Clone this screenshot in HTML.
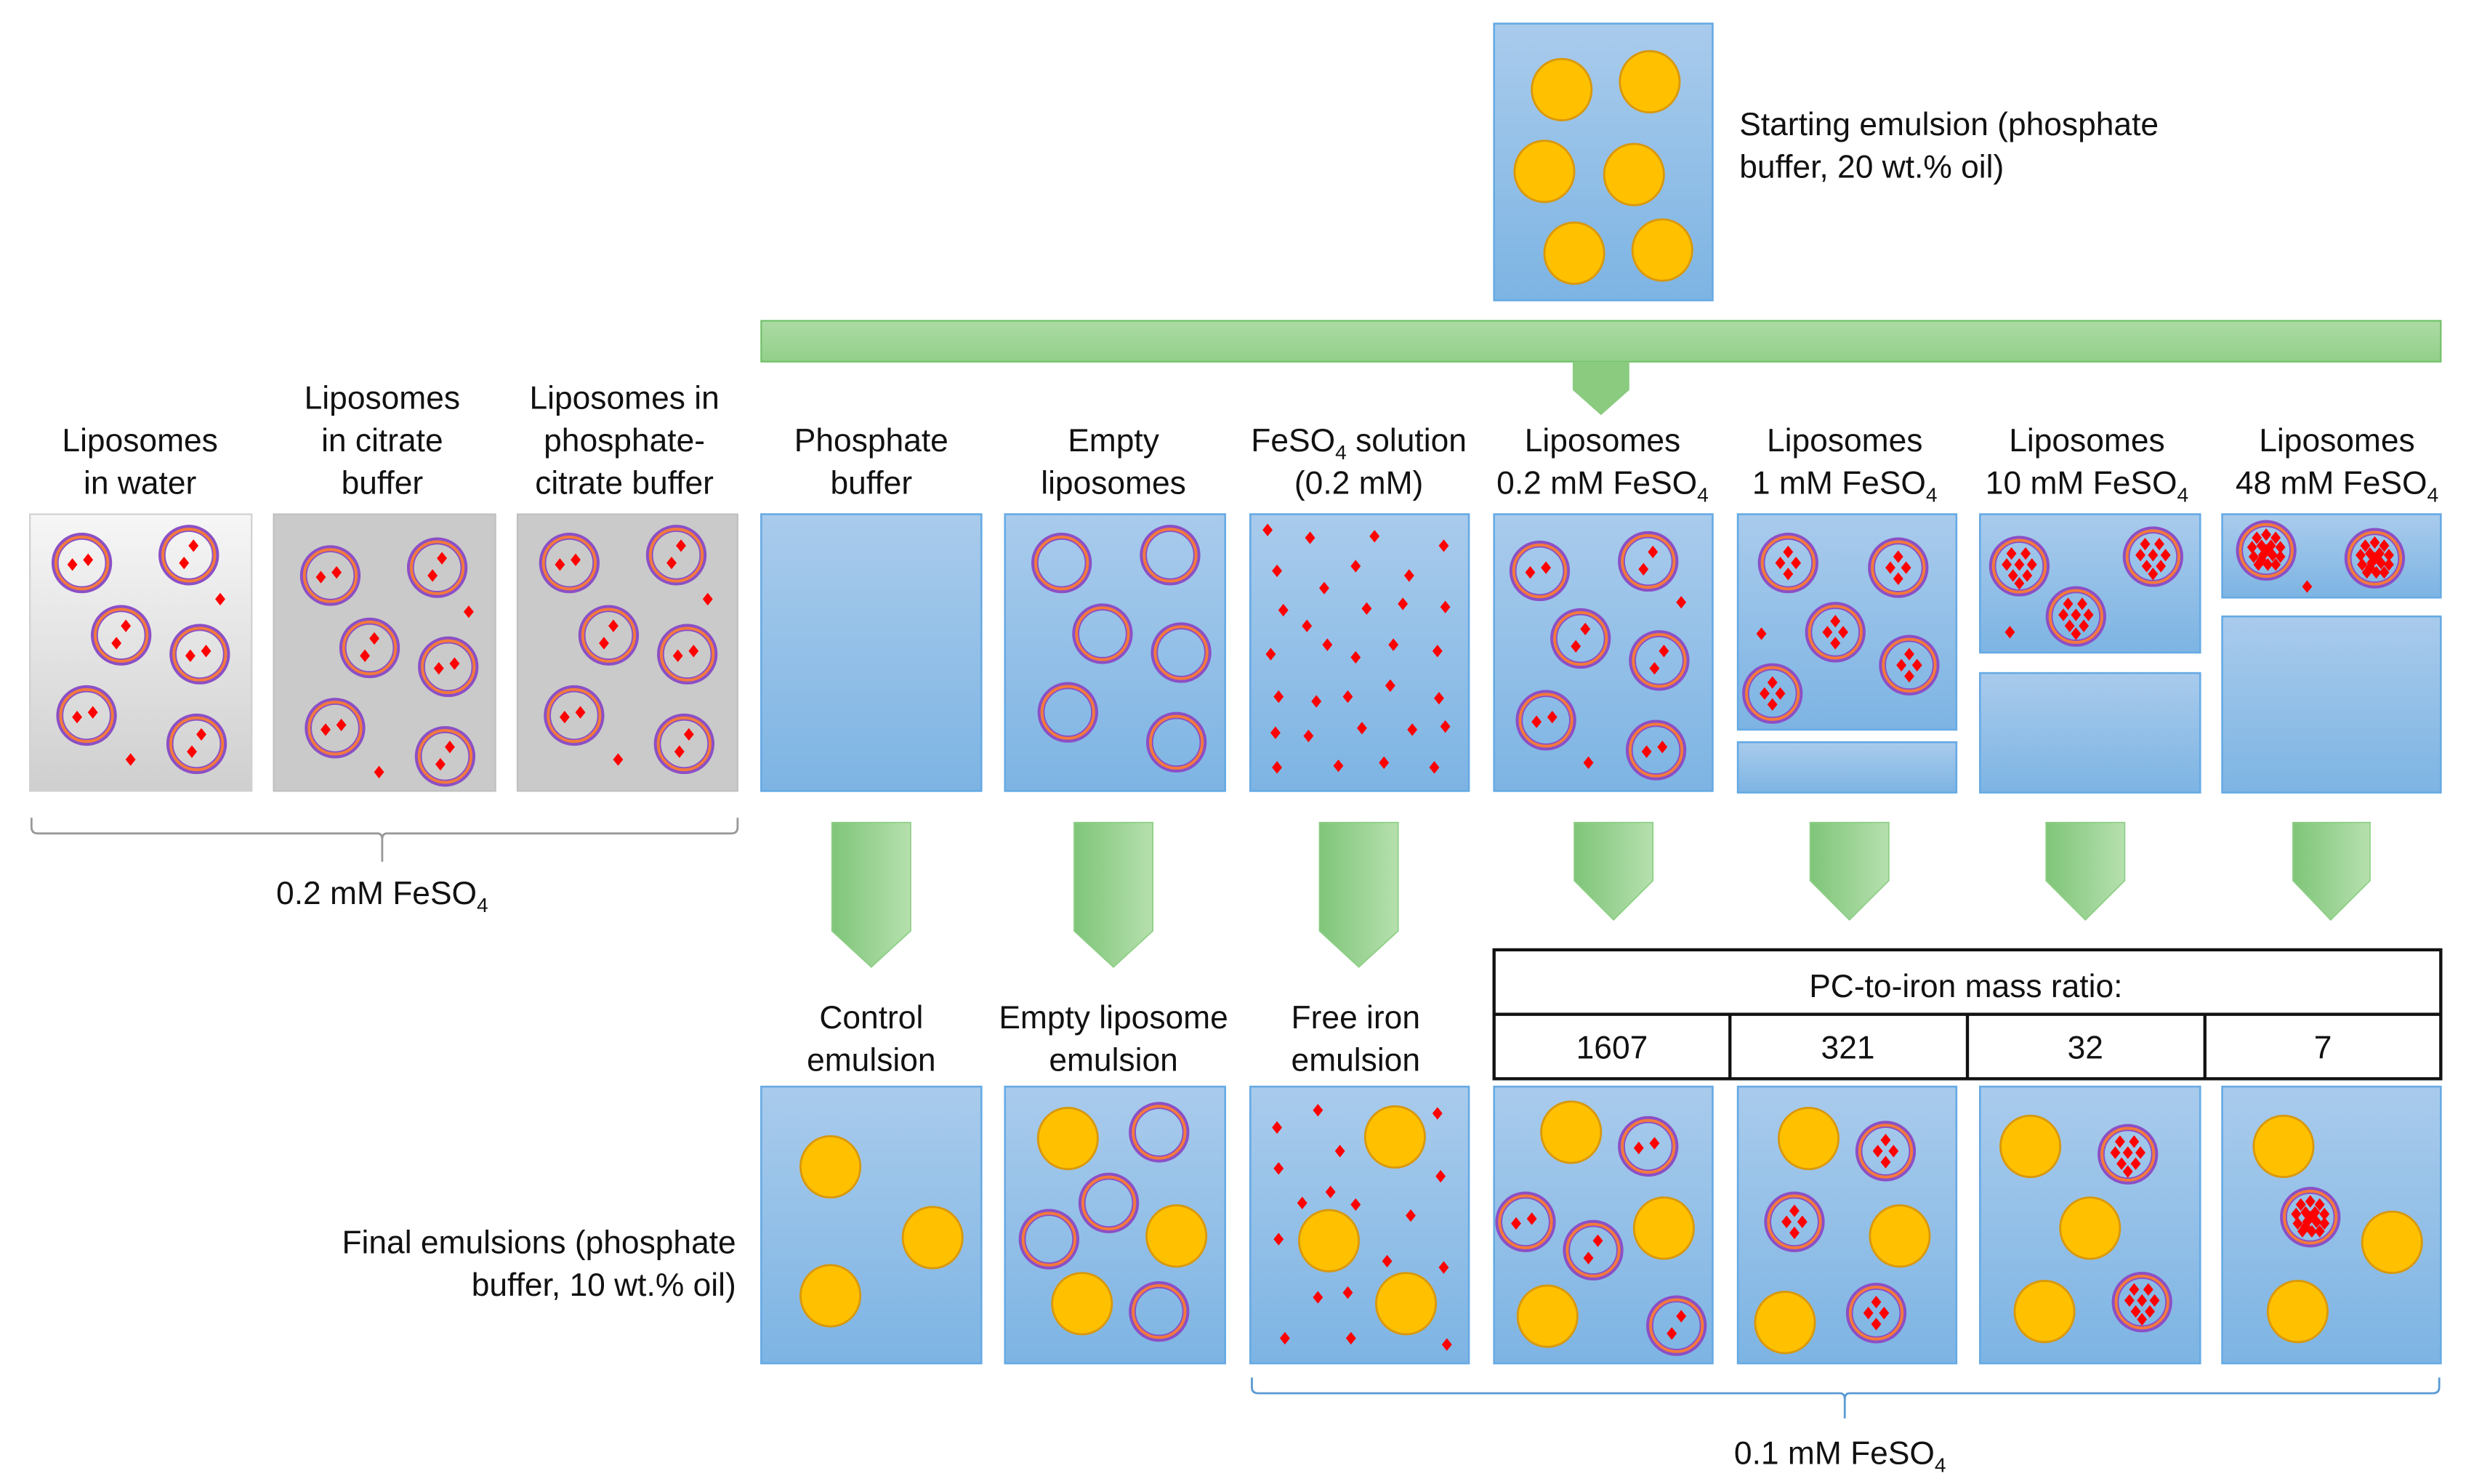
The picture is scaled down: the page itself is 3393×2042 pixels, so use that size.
<!DOCTYPE html>
<html><head><meta charset="utf-8"><style>html,body{margin:0;padding:0;background:#fff}svg{display:block}</style></head><body>
<svg width="3393" height="2042" viewBox="0 0 1568 943.7" xmlns="http://www.w3.org/2000/svg" font-family="Liberation Sans, Arial, sans-serif">
<defs>
<linearGradient id="bl" x1="0" y1="0" x2="0" y2="1"><stop offset="0" stop-color="#a9cbec"/><stop offset="1" stop-color="#7db4e3"/></linearGradient>
<linearGradient id="g1" x1="0" y1="0" x2="0" y2="1"><stop offset="0" stop-color="#f6f6f6"/><stop offset="1" stop-color="#cfcfcf"/></linearGradient>
<linearGradient id="gr" x1="0" y1="0" x2="0" y2="1"><stop offset="0" stop-color="#acdba4"/><stop offset="1" stop-color="#92d08a"/></linearGradient>
<linearGradient id="ga" x1="0" y1="0" x2="1" y2="0"><stop offset="0" stop-color="#7fc579"/><stop offset="1" stop-color="#b6e0ae"/></linearGradient>
<polygon id="d" points="0,-4 3.2,0 0,4 -3.2,0" fill="#f00"/>
<g id="r"><circle r="17" fill="none" stroke="#8b4fc6" stroke-width="4.5"/><circle r="16.5" fill="none" stroke="#f47a3c" stroke-width="1.8"/></g>
<g id="L2"><use href="#r"/><use href="#d" x="-6" y="1"/><use href="#d" x="4" y="-2"/></g>
<g id="L2b"><use href="#r"/><use href="#d" x="3" y="-6"/><use href="#d" x="-3" y="5"/></g>
<g id="L4"><use href="#r"/><use href="#d" x="0" y="-7"/><use href="#d" x="-5" y="0"/><use href="#d" x="5" y="0"/><use href="#d" x="0" y="7"/></g>
<g id="L8"><use href="#r"/><use href="#d" x="-5" y="-8"/><use href="#d" x="4" y="-8"/><use href="#d" x="-8" y="-1"/><use href="#d" x="0" y="-1"/><use href="#d" x="8" y="-1"/><use href="#d" x="-4" y="6"/><use href="#d" x="5" y="6"/><use href="#d" x="0" y="11"/></g>
<g id="L16"><use href="#r"/><use href="#d" x="-6" y="-8"/><use href="#d" x="0" y="-10"/><use href="#d" x="6" y="-8"/><use href="#d" x="-9" y="-2"/><use href="#d" x="-3" y="-3"/><use href="#d" x="3" y="-3"/><use href="#d" x="9" y="-2"/><use href="#d" x="-8" y="4"/><use href="#d" x="-2" y="3"/><use href="#d" x="4" y="3"/><use href="#d" x="9" y="4"/><use href="#d" x="-5" y="9"/><use href="#d" x="1" y="9"/><use href="#d" x="6" y="9"/><use href="#d" x="0" y="0"/><use href="#d" x="-3" y="6"/></g>
<ellipse id="o" rx="19" ry="19.5" fill="#ffc000" stroke="#d8980c" stroke-width="1.3"/>
<g id="gset"><use href="#L2" x="52" y="358"/><use href="#L2b" x="120" y="353"/><use href="#L2b" x="77" y="404"/><use href="#L2" x="127" y="416"/><use href="#L2" x="55" y="455"/><use href="#L2b" x="125" y="473"/><use href="#d" x="140" y="381"/><use href="#d" x="83" y="483"/></g>
</defs>

<!-- Starting emulsion -->
<rect x="950" y="15" width="139" height="176" fill="url(#bl)" stroke="#66aae4" stroke-width="1.2"/>
<use href="#o" x="993" y="57"/><use href="#o" x="1049" y="52"/><use href="#o" x="982" y="109"/><use href="#o" x="1039" y="111"/><use href="#o" x="1001" y="161"/><use href="#o" x="1057" y="159"/>
<g font-size="20.5" fill="#111"><text x="1106" y="86">Starting emulsion (phosphate</text><text x="1106" y="113">buffer, 20 wt.% oil)</text></g>

<!-- green bar -->
<rect x="484" y="204" width="1068" height="26" fill="url(#gr)" stroke="#70c068" stroke-width="1"/>
<polygon points="1000,230 1036,230 1036,248 1018,264 1000,248" fill="#8acb80"/>

<!-- top labels -->
<g font-size="20.5" fill="#111" text-anchor="middle">
<text x="89" y="287">Liposomes</text><text x="89" y="314">in water</text>
<text x="243" y="260">Liposomes</text><text x="243" y="287">in citrate</text><text x="243" y="314">buffer</text>
<text x="397" y="260">Liposomes in</text><text x="397" y="287">phosphate-</text><text x="397" y="314">citrate buffer</text>
<text x="554" y="287">Phosphate</text><text x="554" y="314">buffer</text>
<text x="708" y="287">Empty</text><text x="708" y="314">liposomes</text>
<text x="864" y="287">FeSO<tspan font-size="13" dy="5">4</tspan><tspan dy="-5"> solution</tspan></text><text x="864" y="314">(0.2 mM)</text>
<text x="1019" y="287">Liposomes</text><text x="1019" y="314">0.2 mM FeSO<tspan font-size="13" dy="5">4</tspan></text>
<text x="1173" y="287">Liposomes</text><text x="1173" y="314">1 mM FeSO<tspan font-size="13" dy="5">4</tspan></text>
<text x="1327" y="287">Liposomes</text><text x="1327" y="314">10 mM FeSO<tspan font-size="13" dy="5">4</tspan></text>
<text x="1486" y="287">Liposomes</text><text x="1486" y="314">48 mM FeSO<tspan font-size="13" dy="5">4</tspan></text>
</g>

<!-- gray boxes -->
<rect x="19" y="327" width="141" height="176" fill="url(#g1)" stroke="#d0d0d0"/>
<rect x="174" y="327" width="141" height="176" fill="#cacaca" stroke="#c0c0c0"/>
<rect x="329" y="327" width="140" height="176" fill="#cacaca" stroke="#c0c0c0"/>
<use href="#gset"/><use href="#gset" x="158" y="8"/><use href="#gset" x="310" y="0"/>
<path d="M20,520 v6 q0,4 4,4 H240 q3,0 3,4 v14 M243,534 q0,-4 3,-4 H465 q4,0 4,-4 v-6" fill="none" stroke="#999" stroke-width="1.3"/>
<text x="243" y="575" font-size="20.5" text-anchor="middle" fill="#111">0.2 mM FeSO<tspan font-size="13" dy="5">4</tspan></text>

<!-- blue boxes top -->
<g fill="url(#bl)" stroke="#66aae4" stroke-width="1.2">
<rect x="484" y="327" width="140" height="176"/>
<rect x="639" y="327" width="140" height="176"/>
<rect x="795" y="327" width="139" height="176"/>
<rect x="950" y="327" width="139" height="176"/>
<rect x="1105" y="327" width="139" height="137"/><rect x="1105" y="472" width="139" height="32"/>
<rect x="1259" y="327" width="140" height="88"/><rect x="1259" y="428" width="140" height="76"/>
<rect x="1413" y="327" width="139" height="53"/><rect x="1413" y="392" width="139" height="112"/>
</g>
<g><use href="#r" x="675" y="358"/><use href="#r" x="744" y="353"/><use href="#r" x="701" y="403"/><use href="#r" x="751" y="415"/><use href="#r" x="679" y="453"/><use href="#r" x="748" y="472"/></g>
<g>
<use href="#d" x="806" y="337"/><use href="#d" x="833" y="342"/><use href="#d" x="874" y="341"/><use href="#d" x="918" y="347"/>
<use href="#d" x="812" y="363"/><use href="#d" x="842" y="374"/><use href="#d" x="862" y="360"/><use href="#d" x="896" y="366"/>
<use href="#d" x="816" y="388"/><use href="#d" x="831" y="398"/><use href="#d" x="869" y="387"/><use href="#d" x="892" y="384"/><use href="#d" x="919" y="386"/>
<use href="#d" x="808" y="416"/><use href="#d" x="844" y="410"/><use href="#d" x="862" y="418"/><use href="#d" x="886" y="410"/><use href="#d" x="914" y="414"/>
<use href="#d" x="813" y="443"/><use href="#d" x="837" y="446"/><use href="#d" x="857" y="443"/><use href="#d" x="884" y="436"/><use href="#d" x="915" y="444"/>
<use href="#d" x="811" y="466"/><use href="#d" x="832" y="468"/><use href="#d" x="866" y="463"/><use href="#d" x="898" y="464"/><use href="#d" x="919" y="462"/>
<use href="#d" x="812" y="488"/><use href="#d" x="851" y="487"/><use href="#d" x="880" y="485"/><use href="#d" x="912" y="488"/>
</g>
<g><use href="#L2" x="979" y="363"/><use href="#L2b" x="1048" y="357"/><use href="#L2b" x="1005" y="406"/><use href="#L2b" x="1055" y="420"/><use href="#L2" x="983" y="458"/><use href="#L2" x="1053" y="477"/><use href="#d" x="1069" y="383"/><use href="#d" x="1010" y="485"/></g>
<g><use href="#L4" x="1137" y="358"/><use href="#L4" x="1207" y="361"/><use href="#L4" x="1167" y="402"/><use href="#L4" x="1214" y="423"/><use href="#L4" x="1127" y="441"/><use href="#d" x="1120" y="403"/></g>
<g><use href="#L8" x="1284" y="360"/><use href="#L8" x="1369" y="354"/><use href="#L8" x="1320" y="392"/><use href="#d" x="1278" y="402"/></g>
<g><use href="#L16" x="1441" y="350"/><use href="#L16" x="1510" y="355"/><use href="#d" x="1467" y="373"/></g>

<!-- arrows -->
<g fill="url(#ga)" stroke="#8ccf84" stroke-width="0.8">
<polygon points="529,523 579,523 579,592 554,615 529,592"/>
<polygon points="683,523 733,523 733,592 708,615 683,592"/>
<polygon points="839,523 889,523 889,592 864,615 839,592"/>
<polygon points="1001,523 1051,523 1051,560 1026,585 1001,560"/>
<polygon points="1151,523 1201,523 1201,560 1176,585 1151,560"/>
<polygon points="1301,523 1351,523 1351,560 1326,585 1301,560"/>
<polygon points="1458,523 1507,523 1507,560 1482,585 1458,560"/>
</g>

<g font-size="20.5" fill="#111" text-anchor="middle">
<text x="554" y="654">Control</text><text x="554" y="681">emulsion</text>
<text x="708" y="654">Empty liposome</text><text x="708" y="681">emulsion</text>
<text x="862" y="654">Free iron</text><text x="862" y="681">emulsion</text>
</g>

<!-- table -->
<g fill="none" stroke="#111" stroke-width="2">
<rect x="950" y="604" width="602" height="82"/><line x1="950" y1="645" x2="1552" y2="645"/>
<line x1="1100" y1="645" x2="1100" y2="686"/><line x1="1251" y1="645" x2="1251" y2="686"/><line x1="1402" y1="645" x2="1402" y2="686"/>
</g>
<g font-size="20.5" fill="#111" text-anchor="middle">
<text x="1250" y="634">PC-to-iron mass ratio:</text>
<text x="1025" y="673">1607</text><text x="1175" y="673">321</text><text x="1326" y="673">32</text><text x="1477" y="673">7</text>
</g>

<g font-size="20.5" fill="#111" text-anchor="end"><text x="468" y="797">Final emulsions (phosphate</text><text x="468" y="824">buffer, 10 wt.% oil)</text></g>

<!-- bottom boxes -->
<g fill="url(#bl)" stroke="#66aae4" stroke-width="1.2">
<rect x="484" y="691" width="140" height="176"/><rect x="639" y="691" width="140" height="176"/><rect x="795" y="691" width="139" height="176"/>
<rect x="950" y="691" width="139" height="176"/><rect x="1105" y="691" width="139" height="176"/><rect x="1259" y="691" width="140" height="176"/><rect x="1413" y="691" width="139" height="176"/>
</g>
<use href="#o" x="528" y="742"/><use href="#o" x="593" y="787"/><use href="#o" x="528" y="824"/>
<use href="#o" x="679" y="724"/><use href="#o" x="748" y="786"/><use href="#o" x="688" y="829"/>
<use href="#r" x="737" y="720"/><use href="#r" x="705" y="765"/><use href="#r" x="667" y="788"/><use href="#r" x="737" y="834"/>
<use href="#o" x="887" y="723"/><use href="#o" x="845" y="789"/><use href="#o" x="894" y="829"/>
<g><use href="#d" x="812" y="717"/><use href="#d" x="838" y="706"/><use href="#d" x="914" y="708"/><use href="#d" x="852" y="732"/><use href="#d" x="813" y="743"/><use href="#d" x="916" y="748"/>
<use href="#d" x="828" y="765"/><use href="#d" x="846" y="758"/><use href="#d" x="862" y="766"/><use href="#d" x="897" y="773"/><use href="#d" x="813" y="788"/>
<use href="#d" x="882" y="802"/><use href="#d" x="918" y="806"/><use href="#d" x="838" y="825"/><use href="#d" x="857" y="822"/><use href="#d" x="817" y="851"/><use href="#d" x="859" y="851"/><use href="#d" x="920" y="855"/></g>
<use href="#o" x="999" y="720"/><use href="#o" x="1058" y="781"/><use href="#o" x="984" y="837"/>
<use href="#L2" x="1048" y="729"/><use href="#L2" x="970" y="777"/><use href="#L2b" x="1013" y="795"/><use href="#L2b" x="1066" y="843"/>
<use href="#o" x="1150" y="724"/><use href="#o" x="1208" y="786"/><use href="#o" x="1135" y="841"/>
<use href="#L4" x="1199" y="732"/><use href="#L4" x="1141" y="777"/><use href="#L4" x="1193" y="835"/>
<use href="#o" x="1291" y="729"/><use href="#o" x="1329" y="781"/><use href="#o" x="1300" y="834"/>
<use href="#L8" x="1353" y="734"/><use href="#L8" x="1362" y="828"/>
<use href="#o" x="1452" y="729"/><use href="#o" x="1521" y="790"/><use href="#o" x="1461" y="834"/>
<use href="#L16" x="1469" y="774"/>

<path d="M796,876 v6 q0,4 4,4 H1170 q3,0 3,4 v12 M1173,890 q0,-4 3,-4 H1547 q4,0 4,-4 v-6" fill="none" stroke="#5b9bd5" stroke-width="1.3"/>
<text x="1170" y="931" font-size="20.5" text-anchor="middle" fill="#111">0.1 mM FeSO<tspan font-size="13" dy="5">4</tspan></text>
</svg>
</body></html>
